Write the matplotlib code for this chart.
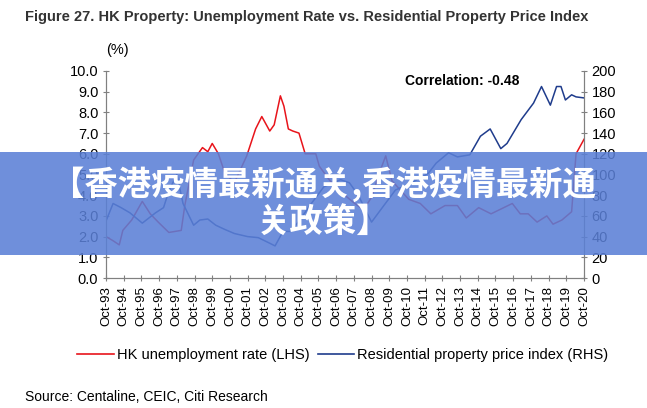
import matplotlib.pyplot as plt
from matplotlib import font_manager
from matplotlib.patches import Rectangle
from matplotlib.lines import Line2D

plt.rcParams['font.family'] = ['Liberation Sans', 'DejaVu Sans']

# find a CJK font file
cjk_path = None
for f in font_manager.findSystemFonts():
    if 'CJK' in f and ('Bold' in f or cjk_path is None):
        cjk_path = f
cjk = font_manager.FontProperties(fname=cjk_path, size=24, weight='bold') if cjk_path else \
    font_manager.FontProperties(family='Noto Sans CJK SC', size=24, weight='bold')

# unemployment rate (%), LHS
unemp_t = [1993.75, 1994.15, 1994.5, 1994.7, 1995.2, 1995.8, 1996.25, 1996.7, 1997.3, 1998.0,
           1998.2, 1998.7, 1999.2, 1999.5, 1999.75, 2000.1, 2000.45, 2001.0, 2001.7, 2002.2,
           2002.55, 2003.0, 2003.25, 2003.6, 2003.8, 2004.05, 2004.3, 2004.65, 2005.0, 2005.6,
           2005.8, 2006.4, 2007.1, 2007.8, 2008.3, 2008.75, 2009.2, 2009.55, 2009.9, 2010.85,
           2011.5, 2012.1, 2012.9, 2013.6, 2014.1, 2014.8, 2015.5, 2016.7, 2017.15, 2017.6,
           2018.1, 2018.65, 2019.0, 2019.5, 2020.05, 2020.3, 2020.75]
unemp_v = [2.0, 1.8, 1.6, 2.3, 2.8, 3.7, 3.1, 2.7, 2.2, 2.3,
           3.5, 5.7, 6.3, 6.1, 6.5, 6.0, 5.1, 4.6, 5.9, 7.2,
           7.8, 7.1, 7.4, 8.8, 8.3, 7.2, 7.1, 7.0, 6.0, 6.0,
           5.4, 4.7, 4.1, 3.6, 3.3, 3.9, 5.1, 5.9, 4.7, 3.8,
           3.6, 3.1, 3.5, 3.5, 2.9, 3.4, 3.1, 3.6, 3.1, 3.1,
           2.7, 3.0, 2.6, 2.8, 3.2, 6.0, 6.7]

# residential property price index, RHS
price_t = [1993.75, 1994.15, 1994.6, 1995.1, 1995.45, 1995.8, 1996.55, 1997.0, 1997.3, 1997.75,
           1998.1, 1998.7, 1999.05, 1999.5, 1999.95, 2000.45, 2001.0, 2001.75, 2002.35, 2002.95,
           2003.3, 2003.75, 2004.2, 2004.65, 2005.35, 2006.05, 2007.0, 2007.5, 2008.0, 2008.75,
           2009.4, 2010.1, 2011.0, 2011.95, 2012.4, 2013.1, 2013.6, 2014.3, 2014.9, 2015.45,
           2016.05, 2016.4, 2017.2, 2017.9, 2018.35, 2018.85, 2019.2, 2019.45, 2019.7, 2020.05,
           2020.3, 2020.75]
price_v = [55, 72, 68, 63, 58, 53, 63, 68, 84, 100,
           72, 51, 56, 57, 51, 47, 43, 40, 39, 34,
           31, 45, 45, 55, 72, 88, 95, 92, 80, 54,
           69, 85, 92, 101, 111, 121, 117, 119, 137, 144,
           125, 130, 153, 169, 185, 167, 185, 185, 172, 177,
           175, 174]

years = list(range(1993, 2021))
tick_pos = [y + 0.75 for y in years]
tick_lbl = ['Oct-%02d' % (y % 100) for y in years]

fig = plt.figure(figsize=(6.47, 4.08), dpi=100)
ax = fig.add_axes([106 / 647, 1 - 278 / 408, (584 - 106) / 647, (278 - 71) / 408])
ax2 = ax.twinx()

ax.plot(unemp_t, unemp_v, color='#e8141b', lw=1.1)
ax2.plot(price_t, price_v, color='#1f3c8c', lw=1.1)

ax.set_xlim(1993.75, 2020.75)
ax.set_ylim(0, 10)
ax2.set_ylim(0, 200)
ax.set_yticks([i for i in range(11)])
ax.set_yticklabels(['%.1f' % i for i in range(11)], fontsize=10.5)
ax2.set_yticks(range(0, 201, 20))
ax2.set_yticklabels([str(v) for v in range(0, 201, 20)], fontsize=10.5)
ax.set_xticks(tick_pos)
ax.set_xticklabels(tick_lbl, rotation=90, fontsize=9.5)
for a in (ax, ax2):
    a.spines['top'].set_visible(False)
    for s in ('left', 'right', 'bottom'):
        a.spines[s].set_color('#808080')
    a.tick_params(color='#808080', length=4, direction='inout')

ax.text(0.625, 0.93, 'Correlation: -0.48', transform=ax.transAxes, fontsize=10, fontweight='bold')
fig.text(117 / 647, 1 - 50 / 408, '(%)', fontsize=10.5, ha='center', va='center')
fig.text(25 / 647, 1 - 17 / 408, 'Figure 27. HK Property: Unemployment Rate vs. Residential Property Price Index',
         fontsize=10.5, fontweight='bold', color='#333333', va='center')

handles = [Line2D([], [], color='#e8141b', lw=1.2), Line2D([], [], color='#1f3c8c', lw=1.2)]
fig.legend(handles, ['HK unemployment rate (LHS)', 'Residential property price index (RHS)'],
           loc='center', bbox_to_anchor=(0.53, 1 - 355 / 408), ncol=2, frameon=False,
           fontsize=10.5, handlelength=2.5, handletextpad=0.2, columnspacing=0.6)
fig.text(25 / 647, 1 - 397 / 408, 'Source: Centaline, CEIC, Citi Research', fontsize=10, va='center')

# overlay banner
fig.patches.append(Rectangle((0, 1 - 255 / 408), 1, 103 / 408, transform=fig.transFigure,
                             facecolor='#5a7fd6', alpha=0.87, zorder=10))
fig.text(0.5, 1 - 203 / 408, '【香港疫情最新通关,香港疫情最新通\n关政策】', fontproperties=cjk,
         color='white', ha='center', va='center', zorder=11, linespacing=1.2)

fig.savefig('out.png', dpi=100)
